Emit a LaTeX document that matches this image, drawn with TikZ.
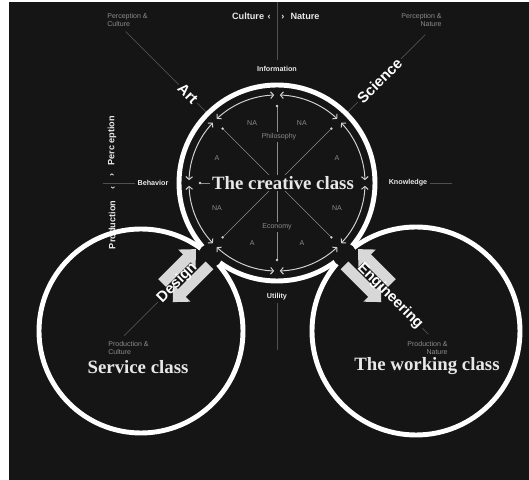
\documentclass[tikz,border=0pt]{standalone}
\usepackage{fontspec}
\setmainfont{Liberation Serif}
\setsansfont{Liberation Sans}
\usepackage{pdfrender}
\usetikzlibrary{arrows.meta, calc}
\definecolor{cls_bg}{HTML}{151515}
\definecolor{cls_text}{HTML}{E8E8E8}
\definecolor{cls_dim}{HTML}{8C8C8C}
\definecolor{cls_line}{HTML}{505050}
\definecolor{cls_arc}{HTML}{D2D2D2}
\definecolor{cls_arrow}{HTML}{D8D8D8}
% white letters with a dark rim
\newcommand{\rimmed}[1]{\textpdfrender{TextRenderingMode=FillStroke,
  LineWidth=0.3pt, StrokeColor=black, FillColor=white}{#1}}

\begin{document}
\begin{tikzpicture}[x=0.02cm, y=0.02cm,
    ring/.style={draw=white, line width=2.8pt},
    inarc/.style={draw=cls_arc, line width=0.55pt,
                  {Straight Barb[length=1.7pt,width=3.8pt]}-{Straight Barb[length=1.7pt,width=3.8pt]}},
    spoke/.style={draw=cls_dim, line width=0.35pt},
    guide/.style={draw=cls_line, line width=0.4pt},
    axlbl/.style={font=\sffamily\bfseries\fontsize{4.1}{5}\selectfont,
                  text=cls_text, fill=cls_bg, inner sep=1.2pt},
    pole/.style={font=\sffamily\bfseries\fontsize{5.2}{6}\selectfont,
                 text=cls_text, inner sep=0pt},
    corner/.style={font=\sffamily\fontsize{4}{4.6}\selectfont,
                   text=cls_dim, inner sep=0pt},
    tag/.style={font=\sffamily\fontsize{4}{4.8}\selectfont, text=cls_dim},
    field/.style={font=\sffamily\bfseries\fontsize{8.5}{9}\selectfont,
                  text=white, inner sep=1.2pt},
    klass/.style={font=\bfseries\fontsize{10.7}{12}\selectfont, text=cls_text},
    flow/.style={draw=cls_arrow, line width=6.2pt,
                 -{Triangle[length=7.4pt,width=13.6pt]}}]
  % canvas
  \fill[white] (0,0) rectangle (529,480);
  \fill[cls_bg] (9,0) rectangle (529,478);
  \useasboundingbox (0,0) rectangle (529,480);

  \coordinate (M) at (277,297);
  \coordinate (L) at (141,149);
  \coordinate (R) at (416,149);

  % Culture / Nature axis
  \coordinate (top) at (277,478);
  \node[axlbl] (info) at (277,411) {Information};
  \draw[guide, shorten >=2pt] (top) -- (info);
  \node[pole, anchor=east] (cul) at (271,464) {Culture\hspace{2pt}‹};
  \node[pole, anchor=west] (nat) at (281,464) {›\hspace{3.5pt}Nature};
  \node[axlbl] (util) at (277,183) {Utility};
  \coordinate (ubot) at (277,130);
  \draw[guide] (util) -- (ubot);

  % Production / Perception axis
  \node[axlbl] (beh) at (153,297) {Behavior};
  \coordinate (bl) at (103,297);
  \draw[guide] (bl) -- (beh);
  \node[pole, rotate=90, anchor=east] (prod) at (112,294) {Production\hspace{6.5pt}‹};
  \node[pole, rotate=90, anchor=west] (perc) at (112,303) {›\hspace{4.5pt}Perc eption};
  \node[axlbl] (know) at (408,297) {Knowledge};
  \coordinate (kr) at (452,297);
  \draw[guide] (know) -- (kr);

  % corners
  \node[corner, anchor=north west, align=left] (pc) at (107,467) {Perception \&\\Culture};
  \node[corner, anchor=north east, align=right] (pn) at (442,467) {Perception \&\\Nature};
  \node[corner, anchor=north west, align=left] (prc) at (108,139) {Production \&\\Culture};
  \node[corner, anchor=north east, align=right] (prn) at (448,139) {Production \&\\Nature};

  % Art, Science
  \node[field, fill=cls_bg, rotate=-45] (art) at ($(M)+(135:126)$) {Art};
  \coordinate (art0) at ($(M)+(135:100)$);
  \coordinate (art1) at ($(M)+(135:214)$);
  \draw[guide] (art0) -- (art) -- (art1);
  \node[field, fill=cls_bg, rotate=45] (sci) at ($(M)+(45:145)$) {Science};
  \coordinate (sci0) at ($(M)+(45:100)$);
  \coordinate (sci1) at ($(M)+(45:210)$);
  \draw[guide] (sci0) -- (sci) -- (sci1);

  % the three classes
  \draw[ring] (M) circle (98);
  \draw[ring] (L) circle (102);
  \draw[ring] (R) circle (104);
  \fill[cls_bg] ($(M)!0.49!(L)$) circle (12);
  \fill[cls_bg] ($(M)!0.485!(R)$) circle (12);

  % inner wheel
  \foreach \a in {0,45,...,315}
    \draw[inarc] ($(M)+(\a+1.8:88)$) arc[start angle=\a+1.8, end angle=\a+43.2, radius=88];
  \foreach \a in {0,45,90,135}{
    \coordinate (s\a) at ($(M)+(\a:77)$);
    \coordinate (t\a) at ($(M)+(\a+180:77)$);
    \draw[spoke] (s\a) -- (t\a);
    \fill[cls_arc] (s\a) circle (1.3) (t\a) circle (1.3);
  }
  \foreach \a/\lbl [count=\i] in {112.5/NA, 67.5/NA, 157.5/A, 22.5/A,
                                 202.5/NA, 337.5/NA, 247.5/A, 292.5/A}
    \node[tag] (pole\i) at ($(M)+(\a:65)$) {\lbl};
  \node[tag, fill=cls_bg, inner sep=1pt] (phil) at ($(M)+(2,46)$) {Philosophy};
  \node[tag, fill=cls_bg, inner sep=1pt] (eco) at ($(M)+(0,-44)$) {Economy};
  \node[klass, fill=cls_bg, inner sep=1pt] (creative) at ($(M)+(6,0)$) {The creative class};

  % Design
  \coordinate (dA1) at ($(M)+(225:152)+(135:10.5)$);
  \coordinate (dA2) at ($(M)+(225:104)+(135:10.5)$);
  \coordinate (dB1) at ($(M)+(225:106)+(315:10.5)$);
  \coordinate (dB2) at ($(M)+(225:158)+(315:10.5)$);
  \draw[flow] (dA1) -- (dA2);
  \draw[flow] (dB1) -- (dB2);
  \node[field, rotate=45] (des) at ($(M)+(225:141)$) {\rimmed{Design}};
  \coordinate (des1) at ($(M)+(225:216)$);
  \draw[guide] (des) -- (des1);

  % Engineering
  \coordinate (eC1) at ($(M)+(315:152)+(45:10.5)$);
  \coordinate (eC2) at ($(M)+(315:104)+(45:10.5)$);
  \coordinate (eD1) at ($(M)+(315:106)+(225:10.5)$);
  \coordinate (eD2) at ($(M)+(315:158)+(225:10.5)$);
  \draw[flow] (eC1) -- (eC2);
  \draw[flow] (eD1) -- (eD2);
  \node[field, rotate=-45] (eng) at ($(M)+(315:160)$) {\rimmed{Engineering}};
  \coordinate (eng1) at ($(M)+(315:214)$);
  \draw[guide] (eng) -- (eng1);

  \node[klass] (service) at (138,113) {Service class};
  \node[klass] (working) at (427,114) {The working class};
\end{tikzpicture}
\end{document}
